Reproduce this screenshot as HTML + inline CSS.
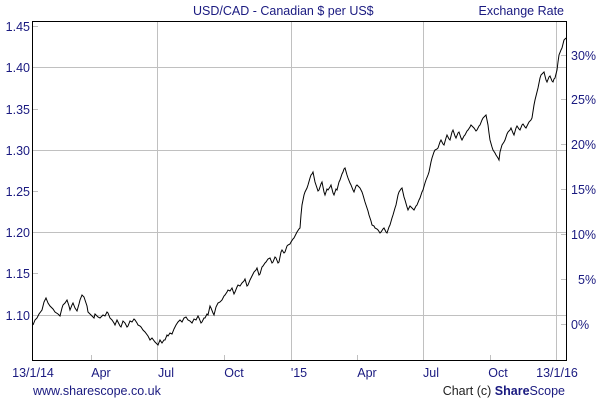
<!DOCTYPE html>
<html><head><style>
body{margin:0;background:#fff;}
svg{display:block;font-family:"Liberation Sans",Arial,sans-serif;}
</style></head><body>
<svg width="600" height="400" viewBox="0 0 600 400">
<g stroke="#c0c0c0" stroke-width="1">
<line x1="157.5" y1="21" x2="157.5" y2="361"/>
<line x1="291.5" y1="21" x2="291.5" y2="361"/>
<line x1="423.5" y1="21" x2="423.5" y2="361"/>
<line x1="556.5" y1="21" x2="556.5" y2="361"/>
<line x1="32" y1="67.5" x2="567" y2="67.5"/>
<line x1="32" y1="150.5" x2="567" y2="150.5"/>
<line x1="32" y1="232.5" x2="567" y2="232.5"/>
<line x1="32" y1="315.5" x2="567" y2="315.5"/>
<line x1="91.5" y1="355" x2="91.5" y2="361"/>
<line x1="224.5" y1="355" x2="224.5" y2="361"/>
<line x1="357.5" y1="355" x2="357.5" y2="361"/>
<line x1="490.5" y1="355" x2="490.5" y2="361"/>
<line x1="32" y1="26.5" x2="38" y2="26.5"/>
<line x1="32" y1="109.5" x2="38" y2="109.5"/>
<line x1="32" y1="191.5" x2="38" y2="191.5"/>
<line x1="32" y1="273.5" x2="38" y2="273.5"/>
<line x1="561" y1="55.5" x2="567" y2="55.5"/>
<line x1="561" y1="99.5" x2="567" y2="99.5"/>
<line x1="561" y1="144.5" x2="567" y2="144.5"/>
<line x1="561" y1="189.5" x2="567" y2="189.5"/>
<line x1="561" y1="234.5" x2="567" y2="234.5"/>
<line x1="561" y1="279.5" x2="567" y2="279.5"/>
<line x1="561" y1="324.5" x2="567" y2="324.5"/>
</g>
<polyline fill="none" stroke="#000" stroke-width="1" points="33,325 35,320 37,318 39,314 42,310 44,302 46,298 48,303 50,306 53,309 55,312 58,314 60,316 62,308 63,305 65,303 67,300 69,306 70,310 72,305 73,303 75,308 77,311 79,304 80,300 82,295 84,297 85,300 87,306 88,312 90,314 92,316 94,318 95,314 98,317 100,318 103,315 105,316 107,312 108,313 110,318 112,320 114,323 115,325 117,320 118,322 120,326 121,327 123,321 125,323 127,327 128,326 130,321 132,322 134,319 135,320 137,323 138,325 140,326 141,327 143,330 145,332 148,336 150,340 152,338 155,342 157,344 158,345 160,340 162,343 164,340 165,340 167,335 168,336 170,333 172,334 174,329 176,325 178,322 180,320 182,322 184,318 186,317 188,320 190,321 192,323 194,319 196,320 198,316 199,318 201,323 202,322 204,318 205,318 207,314 208,315 210,306 211,308 213,313 214,315 216,307 218,303 220,302 222,300 224,296 225,295 227,292 228,290 230,291 232,288 234,294 235,292 237,287 238,285 240,286 242,283 244,281 245,279 247,286 248,285 250,280 251,278 253,274 254,272 256,270 257,268 259,275 260,274 262,267 263,266 265,263 266,262 268,259 270,258 272,263 273,262 275,257 276,258 278,263 279,262 281,252 282,250 284,253 285,252 287,246 288,245 290,244 291,242 293,239 294,238 296,234 297,232 299,229 300,228 301,215 302,205 304,195 305,192 307,188 308,185 310,178 311,175 312,174 313,172 315,182 316,185 318,191 319,190 321,184 322,182 324,192 325,195 327,189 328,190 330,187 331,185 333,193 334,195 336,189 337,190 339,182 340,180 342,174 343,172 344,169 345,168 347,175 348,178 350,183 351,185 353,190 354,192 356,186 357,185 359,187 360,188 362,192 363,195 365,202 366,205 368,211 369,215 371,221 372,225 374,226 375,228 377,229 378,230 380,233 381,232 383,229 384,228 386,232 387,233 389,227 390,225 392,218 393,215 395,208 396,205 398,195 399,192 401,189 402,188 404,197 405,200 407,207 408,210 410,206 411,207 413,209 414,210 416,206 417,205 419,200 420,198 422,192 423,190 425,183 426,180 428,175 429,172 431,162 432,158 434,152 435,150 437,149 438,148 440,142 441,140 443,144 444,145 446,138 447,135 449,139 450,140 452,132 453,130 455,136 456,138 458,133 459,132 461,138 462,140 464,136 465,135 467,131 468,130 470,127 471,125 473,127 474,128 476,131 477,130 479,126 480,125 482,120 483,118 485,116 486,115 487,120 488,125 489,133 490,140 492,147 493,150 495,153 496,155 498,158 499,160 500,152 502,145 504,142 505,140 507,134 508,132 510,130 511,128 513,133 514,135 516,128 517,126 519,129 520,130 522,125 523,124 525,127 526,128 528,124 529,122 531,120 532,118 534,105 535,100 537,92 538,88 540,78 541,75 543,73 544,72 546,80 547,82 549,77 550,76 552,81 553,82 554,79 555,78 557,70 558,62 559,55 561,50 562,48 563,44 564,40 566,38"/>
<rect x="32.5" y="21.5" width="534" height="339" fill="none" stroke="#000" stroke-width="1"/>
<g fill="#1a1a80" font-size="12.5">
<text x="30" y="31" text-anchor="end">1.45</text>
<text x="30" y="72" text-anchor="end">1.40</text>
<text x="30" y="114" text-anchor="end">1.35</text>
<text x="30" y="155" text-anchor="end">1.30</text>
<text x="30" y="196" text-anchor="end">1.25</text>
<text x="30" y="237" text-anchor="end">1.20</text>
<text x="30" y="278" text-anchor="end">1.15</text>
<text x="30" y="320" text-anchor="end">1.10</text>
<text x="571" y="60">30%</text>
<text x="571" y="104">25%</text>
<text x="571" y="149">20%</text>
<text x="571" y="194">15%</text>
<text x="571" y="239">10%</text>
<text x="578" y="284">5%</text>
<text x="571" y="329">0%</text>
<text x="33" y="377" text-anchor="middle">13/1/14</text>
<text x="101" y="377" text-anchor="middle">Apr</text>
<text x="166" y="377" text-anchor="middle">Jul</text>
<text x="234" y="377" text-anchor="middle">Oct</text>
<text x="299" y="377" text-anchor="middle">'15</text>
<text x="367" y="377" text-anchor="middle">Apr</text>
<text x="431" y="377" text-anchor="middle">Jul</text>
<text x="498" y="377" text-anchor="middle">Oct</text>
<text x="557" y="377" text-anchor="middle">13/1/16</text>
<text x="33" y="395">www.sharescope.co.uk</text>
<text x="193" y="15">USD/CAD - Canadian $ per US$</text>
<text x="564" y="15" text-anchor="end">Exchange Rate</text>
</g>
<text x="565" y="395" text-anchor="end" font-size="12.5"><tspan fill="#222">Chart (c) </tspan><tspan fill="#1a1a80" font-weight="bold">Share</tspan><tspan fill="#1a1a80">Scope</tspan></text>
</svg>
</body></html>
